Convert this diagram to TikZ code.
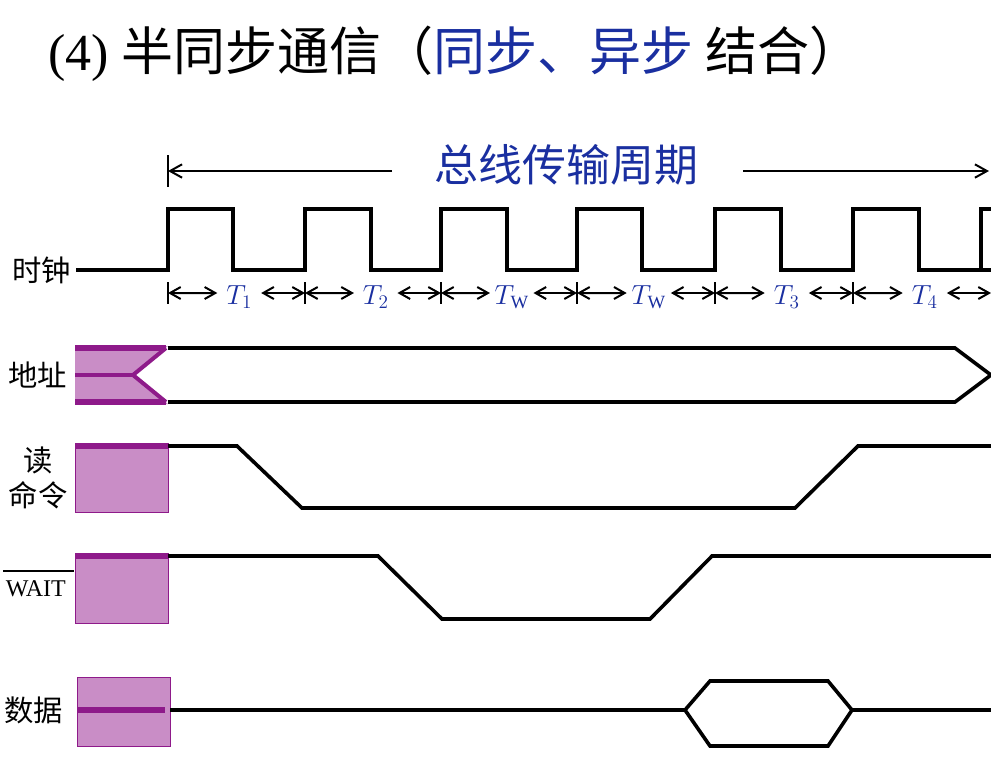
\documentclass[tikz,border=0pt]{standalone}
\usepackage{fontspec}
\setmainfont{Liberation Serif}
\newfontfamily\cjk{Noto Sans CJK SC}
\usetikzlibrary{arrows.meta,calc}
\definecolor{pfill}{HTML}{C98DC6}
\definecolor{pdark}{HTML}{8E1A8A}
\definecolor{tblue}{HTML}{1A2FA0}
\tikzset{sig/.style={line width=2.7pt,line join=miter},
 pbox/.style={fill=pfill,draw=pdark,line width=0.6pt},
 pbar/.style={pdark,line width=4.5pt},
 dim/.style={line width=1.5pt,{Straight Barb[length=8pt,width=9pt]}-{Straight Barb[length=8pt,width=9pt]}},
 lab/.style={font=\cjk\fontsize{22}{26}\selectfont},
 tl/.style={font=\fontsize{20}{22}\selectfont\itshape,text=tblue}}
\begin{document}
\begin{tikzpicture}[x=0.75pt,y=-0.75pt]
\useasboundingbox (0,0) rectangle (991,769);
\node[anchor=west,inner sep=0] (title) at (48,54) {\fontsize{39}{44}\selectfont(4) {\cjk 半同步通信（\textcolor{tblue}{同步、异步} 结合）}};
% bus period
\coordinate (pl) at (168,171); \coordinate (pr) at (989,171);
\draw[line width=1.5pt] (168,155) -- (168,187);
\node[font=\cjk\fontsize{33}{36}\selectfont,text=tblue] (per) at (566,165) {总线传输周期};
\draw[line width=1.5pt,-{Straight Barb[length=9pt,width=10pt]}] (392,171) -- (pl);
\draw[line width=1.5pt,-{Straight Barb[length=9pt,width=10pt]}] (743,171) -- (pr);
% clock
\node[lab,anchor=east] (clk) at (76,270) {时钟};
\draw[sig] (76,270) -- (168,270) -- (168,209) -- (233,209) -- (233,270) -- (305,270) -- (305,209) -- (371,209) -- (371,270) -- (441,270) -- (441,209) -- (507,209) -- (507,270) -- (577,270) -- (577,209) -- (642,209) -- (642,270) -- (715,270) -- (715,209) -- (781,209) -- (781,270) -- (853,270) -- (853,209) -- (919,209) -- (919,270) -- (991,270);
\draw[sig] (981,270) -- (981,209) -- (991,209);
\foreach \x in {168,305,441,577,715,853} \draw[line width=1.5pt] (\x,282) -- (\x,304);
\foreach \a/\b/\t [count=\i] in {168/305/$T_1$,305/441/$T_2$,441/577/$T_{\mathrm W}$,577/715/$T_{\mathrm W}$,715/853/$T_3$,853/991/$T_4$}{
  \coordinate (a\i) at (\a,293); \coordinate (b\i) at (\b,293);
  \draw[dim] (a\i) -- ($(a\i)!0.36!(b\i)$);
  \draw[dim] ($(a\i)!0.68!(b\i)$) -- (b\i);
  \node[tl] (t\i) at ($(a\i)!0.52!(b\i)+(0,4)$) {\t};
}
% address
\node[lab,anchor=east] (addr) at (72,375) {地址};
\fill[pfill] (75,346) -- (168,346) -- (133,375) -- (168,404) -- (75,404) -- cycle;
\draw[pbar] (75,348) -- (166,348);
\draw[pbar] (75,402) -- (166,402);
\draw[pdark,line width=3.5pt] (75,375) -- (133,375);
\draw[pdark,line width=3pt] (166,348) -- (133,375) -- (166,402);
\draw[sig] (168,348) -- (955,348) -- (991,375);
\draw[sig] (168,402) -- (955,402) -- (991,375);
% read command
\node[lab,align=center] (rd) at (38,478) {读\\命令};
\draw[pbox] (75,443) rectangle (168,512);
\draw[pbar] (75,446) -- (168,446);
\draw[sig] (168,446) -- (237,446) -- (302,508) -- (795,508) -- (858,446) -- (991,446);
% wait
\node[anchor=east,font=\fontsize{18}{20}\selectfont,inner sep=0] (wt) at (66,589) {WAIT};
\draw[line width=1.3pt] (3,571) -- (74,571);
\draw[pbox] (75,553) rectangle (168,623);
\draw[pbar] (75,556) -- (168,556);
\draw[sig] (168,556) -- (378,556) -- (442,619) -- (650,619) -- (712,556) -- (991,556);
% data
\node[lab,anchor=east] (dat) at (68,710) {数据};
\draw[pbox] (77,677) rectangle (170,746);
\draw[pbar] (77,710) -- (165,710);
\draw[sig] (170,710) -- (685,710) -- (710,681) -- (828,681) -- (852,710) -- (828,746) -- (710,746) -- (685,710);
\draw[sig] (852,710) -- (991,710);
\end{tikzpicture}
\end{document}
